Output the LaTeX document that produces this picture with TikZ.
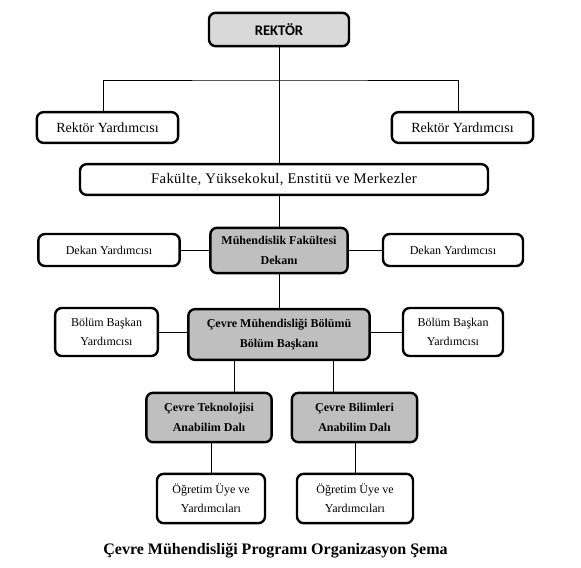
\documentclass[tikz,border=0pt]{standalone}
\usepackage{fontspec}
\setmainfont{Liberation Serif}
\newfontfamily\calibrifont{Carlito}
\usetikzlibrary{calc}
\definecolor{rektorgray}{RGB}{217, 217, 217}
\definecolor{unitgray}{RGB}{191, 191, 191}

\tikzset{
  box/.style={draw, line width=1.8pt, rounded corners=5pt, align=center,
    inner sep=0pt, font=\fontsize{10.5}{12}\selectfont},
  smallbox/.style={box, font=\fontsize{9}{14}\selectfont},
  graybox/.style={box, fill=unitgray, font=\fontsize{9}{14.5}\selectfont\bfseries},
  link/.style={line width=0.7pt}
}

\begin{document}
\begin{tikzpicture}[x=0.75pt, y=-0.75pt]
            \useasboundingbox (0,0) rectangle (581,567);
            % top level
            \node[box, fill=rektorgray, minimum width=105pt, minimum height=25pt,
                  font=\calibrifont\fontsize{11}{12}\selectfont\bfseries] (rektor) at (279,29.5) {REKTÖR};
            \node[box, minimum width=106pt, minimum height=23pt] (ryl) at (107.5,127.5) {Rektör Yardımcısı};
            \node[box, minimum width=106pt, minimum height=23pt] (ryr) at (462.5,127.5) {Rektör Yardımcısı};
            \node[box, minimum width=306pt, minimum height=23pt,
                  font=\fontsize{11}{12}\selectfont\addfontfeature{LetterSpace=2.5}] (fak) at (284,179.5) {Fakülte, Yüksekokul, Enstitü ve Merkezler};
            % faculty
            \node[graybox, minimum width=103pt, minimum height=34pt] (dekan) at (279,250.5) {Mühendislik Fakültesi\\Dekanı};
            \node[smallbox, minimum width=106pt, minimum height=24pt] (dyl) at (109,250) {Dekan Yardımcısı};
            \node[smallbox, minimum width=105pt, minimum height=24pt] (dyr) at (453,250) {Dekan Yardımcısı};
            % department
            \node[graybox, minimum width=136pt, minimum height=38pt] (bolum) at (279,334.5) {Çevre Mühendisliği Bölümü\\Bölüm Başkanı};
            \node[smallbox, minimum width=77pt, minimum height=36pt] (byl) at (106.5,332) {Bölüm Başkan\\Yardımcısı};
            \node[smallbox, minimum width=75pt, minimum height=36pt] (byr) at (453,332) {Bölüm Başkan\\Yardımcısı};
            % divisions
            \node[graybox, minimum width=94pt, minimum height=37pt] (ctek) at (209,417.5) {Çevre Teknolojisi\\Anabilim Dalı};
            \node[graybox, minimum width=94pt, minimum height=37pt] (cbil) at (354.5,417.5) {Çevre Bilimleri\\Anabilim Dalı};
            \node[smallbox, minimum width=81pt, minimum height=37pt] (ogl) at (211,498.5) {Öğretim Üye ve\\Yardımcıları};
            \node[smallbox, minimum width=87pt, minimum height=37pt] (ogr) at (355,498.5) {Öğretim Üye ve\\Yardımcıları};
            \node[font=\fontsize{12}{14}\selectfont\bfseries] (caption) at (275.5,551) {Çevre Mühendisliği Programı Organizasyon Şema};
            % connectors
            \coordinate (split) at (279,80);
            \coordinate (tekdrop) at ($(bolum.south)+(-45,0)$);
            \coordinate (bildrop) at ($(bolum.south)+(54,0)$);
            \draw[link] (rektor.south) -- (rektor.south |- fak.north);
            \draw[link] ([xshift=-3.4pt]ryl.north) |- (split) -| ([xshift=-3.4pt]ryr.north);
            \draw[link] (dekan.north |- fak.south) -- (dekan.north);
            \draw[link] (dyl.east) -- (dyl.east -| dekan.west);
            \draw[link] (dyr.west) -- (dyr.west -| dekan.east);
            \draw[link] (dekan.south) -- (bolum.north);
            \draw[link] (byl.east) -- (byl.east -| bolum.west);
            \draw[link] (byr.west) -- (byr.west -| bolum.east);
            \draw[link] (tekdrop) -- (tekdrop |- ctek.north);
            \draw[link] (bildrop) -- (bildrop |- cbil.north);
            \draw[link] (ogl.north |- ctek.south) -- (ogl.north);
            \draw[link] (ogr.north |- cbil.south) -- (ogr.north);
        \end{tikzpicture}
\end{document}
